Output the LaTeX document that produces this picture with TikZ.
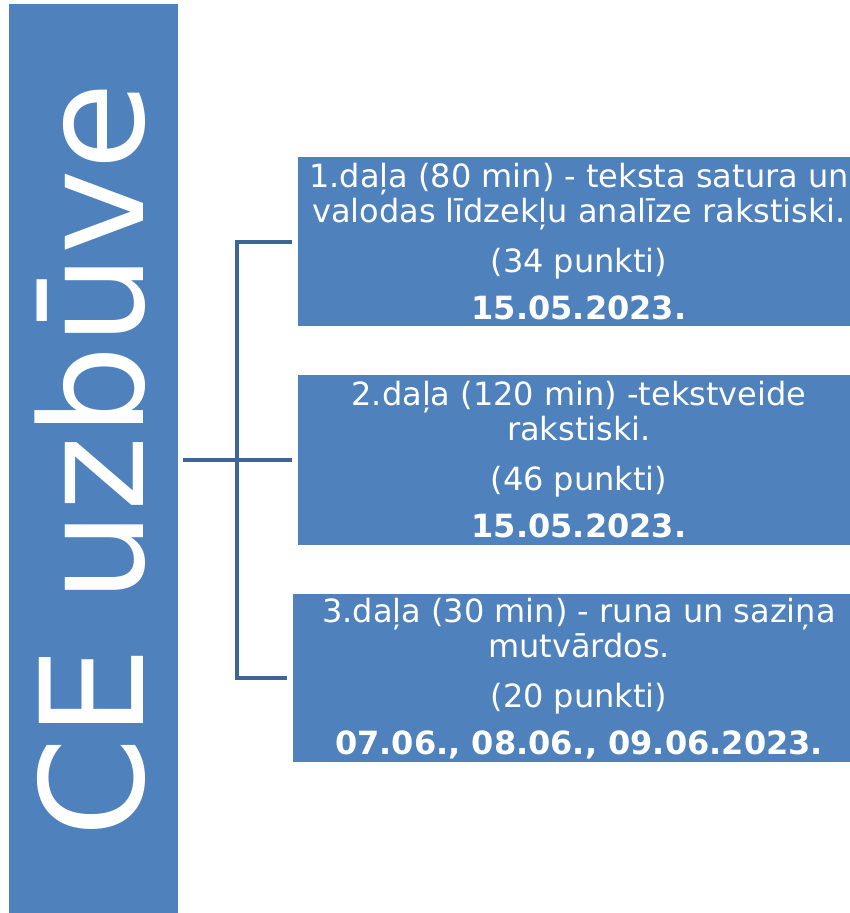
\documentclass[tikz,border=0pt]{standalone}
\usepackage{fontspec}
\setmainfont{DejaVu Sans}
\usepackage{xcolor}
\definecolor{partblue}{RGB}{79,129,189}
\definecolor{linkblue}{RGB}{61,101,150}

\begin{document}
\begin{tikzpicture}[x=1pt,y=-1pt,
  partbox/.style={fill=partblue,minimum width=562pt,minimum height=169pt},
  parttext/.style={text=white,align=center,anchor=base,font=\fontsize{32}{35}\selectfont},
  link/.style={draw=linkblue,line width=4pt}]
 	\tikzstyle{every node}+=[inner sep=0pt]
 	\useasboundingbox (0,0) rectangle (850,913);
 	\clip (0,0) rectangle (850,913);
 	\node [fill=partblue,minimum width=169pt,minimum height=909pt] (bar) at (93.5,458.5) {};
 	\node [text=white,rotate=90,anchor=base,font=\fontsize{143}{143}\selectfont] (title) at (143,460) {CE uzbūve};
 	\node [partbox] (p1) at (579,241.5) {};
 	\node [partbox,minimum height=170pt] (p2) at (579,460) {};
 	\node [partbox,minimum width=572pt,minimum height=168pt] (p3) at (579,678) {};
 	\node [parttext] (p1t) at (579,319) {1.daļa (80 min) - teksta satura un\\valodas līdzekļu analīze rakstiski.\\[15pt](34 punkti)\\[12pt]\textbf{15.05.2023.}};
 	\node [parttext] (p2t) at (579,537) {2.daļa (120 min) -tekstveide\\rakstiski.\\[15pt](46 punkti)\\[12pt]\textbf{15.05.2023.}};
 	\node [parttext] (p3t) at (579,754) {3.daļa (30 min) - runa un saziņa\\mutvārdos.\\[15pt](20 punkti)\\[12pt]\textbf{07.06., 08.06., 09.06.2023.}};
 	\coordinate (spine) at (237,460);
 	\draw [link] ([xshift=-6pt]p1.west) -- (p1.west -| spine) -- (p3.west -| spine) -- ([xshift=-6pt]p3.west);
 	\draw [link] ([xshift=5pt]bar.east |- p2.west) -- ([xshift=-6pt]p2.west);
\end{tikzpicture}
\end{document}
